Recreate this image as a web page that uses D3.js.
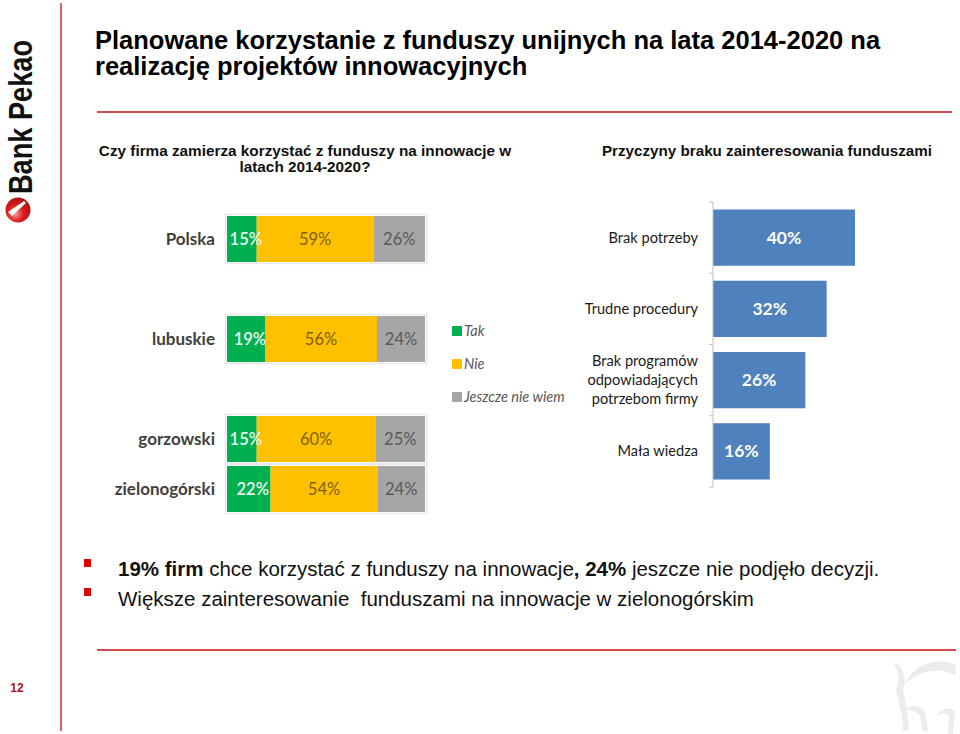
<!DOCTYPE html>
<html><head><meta charset="utf-8">
<script src="https://cdn.jsdelivr.net/npm/d3@7"></script>
<style>
html,body{margin:0;padding:0;background:#fff;}
svg{display:block;}
</style></head>
<body>
<svg id="c" width="960" height="734"></svg>
<script>
// ---------- data ----------
const regions = ["Polska", "lubuskie", "gorzowski", "zielonogórski"];
const tak = [15, 19, 15, 22];
const nie = [59, 56, 60, 54];
const niewiem = [26, 24, 25, 24];
const seriesNames = ["Tak", "Nie", "Jeszcze nie wiem"];

const reasons = ["Brak potrzeby", "Trudne procedury", "Brak programów\nodpowiadających\npotrzebom firmy", "Mała wiedza"];
const reasonValues = [40, 32, 26, 16];

const titleLines = ["Planowane korzystanie z funduszy unijnych na lata 2014-2020 na", "realizację projektów innowacyjnych"];
const leftSubtitle = ["Czy firma zamierza korzystać z funduszy na innowacje w", "latach 2014-2020?"];
const rightSubtitle = "Przyczyny braku zainteresowania funduszami";
const pageNumber = "12";

// ---------- frame ----------
const svg = d3.select("#c");

svg.append("line").attr("x1", 61).attr("x2", 61).attr("y1", 3).attr("y2", 731)
  .attr("stroke", "#d42a2a").attr("stroke-width", 1.5);

// logo
svg.append("text").attr("transform", "translate(32,194) rotate(-90)")
  .attr("font-family", "Liberation Sans, Arial, sans-serif").attr("font-size", 33).attr("font-weight", "bold")
  .attr("textLength", 154).attr("lengthAdjust", "spacingAndGlyphs")
  .attr("fill", "#111").text("Bank Pekao");
const defs = svg.append("defs");
const rg = defs.append("radialGradient").attr("id", "lg").attr("cx", "40%").attr("cy", "65%").attr("r", "70%");
rg.append("stop").attr("offset", "0%").attr("stop-color", "#f4a0a0");
rg.append("stop").attr("offset", "45%").attr("stop-color", "#e01b1b");
rg.append("stop").attr("offset", "100%").attr("stop-color", "#a00d0d");
svg.append("circle").attr("cx", 18).attr("cy", 210).attr("r", 12.5).attr("fill", "url(#lg)");
svg.append("path").attr("d", "M8,212 L24,201 L26,203 L12,216 Z").attr("fill", "#fff");

// page number
svg.append("text").attr("x", 17).attr("y", 692).attr("text-anchor", "middle")
  .attr("font-family", "Liberation Sans, Arial, sans-serif").attr("font-size", 12).attr("font-weight", "bold")
  .attr("fill", "#b0101c").text(pageNumber);

// red rules
svg.append("line").attr("x1", 97).attr("x2", 952).attr("y1", 112).attr("y2", 112)
  .attr("stroke", "#d24a4a").attr("stroke-width", 2);
svg.append("line").attr("x1", 97).attr("x2", 956).attr("y1", 650).attr("y2", 650)
  .attr("stroke", "#d24a4a").attr("stroke-width", 2);

// watermark
const wm = svg.append("g").attr("fill", "#ececec");
wm.append("path").attr("d", "M894,664 C899,672 900,680 896,690 L899,704 C902,716 904,724 903,731 L909,731 C908,718 906,702 903,690 C907,680 904,670 896,662 Z");
wm.append("path").attr("d", "M905,684 C912,668 930,656 955,664 L956,676 C944,668 922,668 905,684 Z");
wm.append("path").attr("d", "M900,712 C908,704 920,704 925,712 L928,731 L923,731 L920,716 C916,710 908,708 900,712 Z");
wm.append("path").attr("d", "M936,716 C942,708 950,706 955,712 L953,734 L948,734 L949,716 C946,712 941,713 936,716 Z");

// title
svg.append("g").selectAll("text").data(titleLines).join("text")
  .attr("x", 95).attr("y", (d, i) => 49 + i * 26)
  .attr("font-family", "Liberation Sans, Arial, sans-serif").attr("font-size", 25.5).attr("font-weight", "bold")
  .attr("fill", "#000").text(d => d);

// subtitles
svg.append("g").selectAll("text").data(leftSubtitle).join("text")
  .attr("x", 305).attr("y", (d, i) => 156 + i * 16).attr("text-anchor", "middle")
  .attr("font-family", "Liberation Sans, Arial, sans-serif").attr("font-size", 15.3).attr("font-weight", "bold")
  .attr("fill", "#111").text(d => d);
svg.append("text").attr("x", 767).attr("y", 156).attr("text-anchor", "middle")
  .attr("font-family", "Liberation Sans, Arial, sans-serif").attr("font-size", 15.2).attr("font-weight", "bold")
  .attr("fill", "#111").text(rightSubtitle);

// ---------- left stacked bars ----------
const colors = ["#00b050", "#ffc000", "#a6a6a6"];
const labelColors = ["#eaf6ee", "#7f6000", "#595959"];
const rows = regions.map((r, i) => ({region: r, vals: [tak[i], nie[i], niewiem[i]]}));
const slotDomain = ["Polska", "_g1", "lubuskie", "_g2", "gorzowski", "zielonogórski"];
const yL = d3.scaleBand().domain(slotDomain).range([214, 514]).paddingInner(0.08).paddingOuter(0.04);
const xL0 = 227, xL1 = 425;
const gL = svg.append("g");
rows.forEach(row => {
  const total = d3.sum(row.vals);
  const x = d3.scaleLinear().domain([0, total]).range([xL0, xL1]);
  const y0 = yL(row.region), h = yL.bandwidth();
  gL.append("rect").attr("x", xL0 - 1.5).attr("y", y0 - 1.5).attr("width", xL1 - xL0 + 3).attr("height", h + 3)
    .attr("fill", "none").attr("stroke", "#e8e8e8").attr("stroke-width", 1.5);
  let cum = 0;
  const segs = row.vals.map((v, k) => { const s = {k, v, a: cum, b: cum + v}; cum += v; return s; });
  gL.selectAll(null).data(segs).join("rect")
    .attr("x", d => x(d.a)).attr("y", y0).attr("width", d => x(d.b) - x(d.a)).attr("height", h)
    .attr("fill", d => colors[d.k]);
  gL.selectAll(null).data(segs).join("text")
    .attr("x", d => (x(d.a) + x(d.b)) / 2 + (d.k === 0 ? 4 : 0))
    .attr("y", y0 + h / 2 + 5.5).attr("text-anchor", "middle")
    .attr("font-family", "Lato, sans-serif").attr("font-size", 16.5)
    .attr("font-weight", d => d.k === 0 ? "600" : "normal")
    .attr("fill", d => labelColors[d.k]).text(d => d.v + "%");
  gL.append("text").attr("x", 215).attr("y", y0 + h / 2 + 5.5).attr("text-anchor", "end")
    .attr("font-family", "Lato, sans-serif").attr("font-size", 17).attr("font-weight", "bold")
    .attr("fill", "#404040").text(row.region);
});

// legend
const lg = svg.append("g").selectAll("g").data(seriesNames).join("g")
  .attr("transform", (d, i) => `translate(452,${326 + i * 33})`);
lg.append("rect").attr("width", 10).attr("height", 10).attr("fill", (d, i) => colors[i]);
lg.append("text").attr("x", 12).attr("y", 10).attr("font-family", "Lato, sans-serif").attr("font-size", 14.5)
  .attr("font-style", "italic").attr("fill", "#595959").text(d => d);

// ---------- right horizontal bars ----------
const yR = d3.scaleBand().domain(reasons).range([202, 487]).paddingInner(0.21).paddingOuter(0.105);
const xR = d3.scaleLinear().domain([0, 40]).range([713, 855]);
const gR = svg.append("g");
gR.selectAll("rect").data(reasons).join("rect")
  .attr("x", xR(0)).attr("y", d => yR(d)).attr("width", (d, i) => xR(reasonValues[i]) - xR(0))
  .attr("height", yR.bandwidth()).attr("fill", "#4f81bd");
gR.selectAll("text.v").data(reasons).join("text").attr("class", "v")
  .attr("x", (d, i) => (xR(0) + xR(reasonValues[i])) / 2).attr("y", d => yR(d) + yR.bandwidth() / 2 + 6)
  .attr("text-anchor", "middle").attr("font-family", "Lato, sans-serif").attr("font-size", 17.5)
  .attr("font-weight", "bold").attr("fill", "#fff").text((d, i) => reasonValues[i] + "%");
// axis line and ticks at band boundaries
gR.append("line").attr("x1", 713).attr("x2", 713).attr("y1", 202).attr("y2", 487).attr("stroke", "#bfbfbf");
const bounds = reasons.map(d => yR(d) - yR.step() * yR.paddingInner() / 2);
bounds[0] = 202; bounds.push(487);
gR.selectAll("line.t").data(bounds).join("line").attr("class", "t")
  .attr("x1", 709).attr("x2", 713).attr("y1", d => d).attr("y2", d => d).attr("stroke", "#bfbfbf");
// category labels
reasons.forEach(r => {
  const lines = r.split("\n");
  const cy = yR(r) + yR.bandwidth() / 2;
  const lh = 19;
  gR.append("g").selectAll("text").data(lines).join("text")
    .attr("x", 698).attr("y", (d, i) => cy + 5 + (i - (lines.length - 1) / 2) * lh)
    .attr("text-anchor", "end").attr("font-family", "Lato, sans-serif").attr("font-size", 14.6)
    .attr("fill", "#1a1a1a").text(d => d);
});

// ---------- bullets ----------
const bullets = svg.append("g").attr("font-family", "Liberation Sans, Arial, sans-serif").attr("font-size", 20.5).attr("fill", "#111");
bullets.append("rect").attr("x", 84).attr("y", 559).attr("width", 7).attr("height", 8).attr("fill", "#e00000");
bullets.append("rect").attr("x", 84).attr("y", 588).attr("width", 7).attr("height", 8).attr("fill", "#e00000");
const t1 = bullets.append("text").attr("x", 118).attr("y", 576).attr("xml:space", "preserve");
t1.append("tspan").attr("font-weight", "bold").text("19% firm");
t1.append("tspan").text(" chce korzystać z funduszy na innowacje");
t1.append("tspan").attr("font-weight", "bold").text(", 24%");
t1.append("tspan").text(" jeszcze nie podjęło decyzji.");
bullets.append("text").attr("x", 118).attr("y", 606).attr("xml:space", "preserve")
  .text("Większe zainteresowanie  funduszami na innowacje w zielonogórskim");
</script>
</body></html>
